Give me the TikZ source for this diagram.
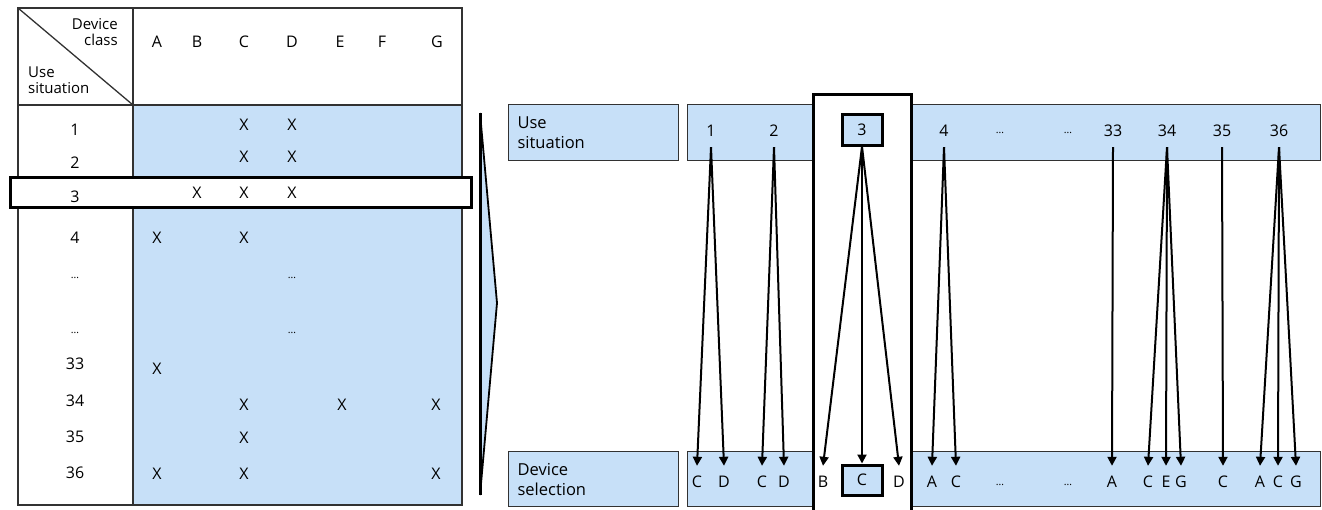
\documentclass[tikz,border=0pt]{standalone}
\usepackage{fontspec}
\setmainfont{Open Sans}
\usetikzlibrary{arrows.meta}
\definecolor{cellblue}{RGB}{199,224,248}
\definecolor{rule}{RGB}{50,50,50}

\begin{document}
\begin{tikzpicture}[x=1pt,y=-1pt,
  txt/.style={inner sep=0pt, font=\fontsize{16}{19}\selectfont},
  dots/.style={inner sep=0pt, font=\fontsize{10.5}{12}\selectfont},
  lbl/.style={draw=rule, line width=1.2pt, fill=cellblue, anchor=north west,
    font=\fontsize{16.5}{20}\selectfont, align=left, text width=152pt,
    inner xsep=9pt, inner ysep=0pt, minimum width=170pt},
  band/.style={draw=rule, line width=1.2pt, fill=cellblue, anchor=north west, inner sep=0pt},
  frame/.style={draw=black, line width=3pt},
  link/.style={line width=2pt, -{Triangle[length=9pt,width=9pt]}},
  tag/.style={txt, minimum height=32pt},
]
\useasboundingbox (0,0) rectangle (1322,509);

% ---------- matrix of use situations and device classes ----------
\fill[cellblue] (133,105) rectangle (462,505);
\draw[rule, line width=1.3pt] (18,8) rectangle (462,505);
\draw[rule, line width=1.3pt] (133,8) -- (133,505);
\draw[rule, line width=1.3pt] (18,105) -- (462,105);
\draw[rule, line width=1.3pt] (18,8) -- (133,105);
\node[txt, align=right, anchor=north east, font=\fontsize{15}{16.5}\selectfont] (hdc) at (118,18) {Device\\class};
\node[txt, align=left, anchor=north west, font=\fontsize{15}{16}\selectfont] (hus) at (28,67) {Use\\situation};

% highlighted row 3
\draw[frame, fill=white] (10,177) rectangle (471,207);

\foreach \l/\x in {A/157,B/197,C/244,D/292,E/340,F/382,G/437}
  \node[txt] (col\l) at (\x,42) {\l};

\foreach \n/\y [count=\i] in {1/130,2/163,3/197,4/238,33/364,34/401,35/437,36/473}
  \node[txt] (row\i) at (75,\y) {\n};
\node[dots] (rowdotsa) at (75,278) {\ldots};
\node[dots] (rowdotsb) at (75,333) {\ldots};
\node[dots] (celldotsa) at (292,278) {\ldots};
\node[dots] (celldotsb) at (292,333) {\ldots};

\foreach \x/\y [count=\i] in {244/125,292/125, 244/157,292/157, 197/193,244/193,292/193,
    157/238,244/238, 157/369, 244/405,342/405,436/405, 244/438, 157/474,244/474,436/474}
  \node[txt] (x\i) at (\x,\y) {X};

% ---------- transition chevron ----------
\fill[cellblue] (480,113) -- (497,303) -- (480,495) -- cycle;
\draw[line width=1.8pt, line join=miter] (480,113) -- (497,303) -- (480,495);
\draw[line width=3pt] (480,113) -- (480,495);

% ---------- mapping view ----------
\node[lbl, minimum height=56pt] (uselbl) at (508,104) {Use\\situation};
\node[lbl, minimum height=55pt] (devlbl) at (508,451) {Device\\selection};
\node[band, minimum width=633pt, minimum height=56pt] (topband) at (687,104) {};
\node[band, minimum width=633pt, minimum height=55pt] (botband) at (687,451) {};

% highlighted column for use situation 3
\draw[frame, fill=white] (813,94) rectangle (911,530);
\node[txt, frame, fill=cellblue, minimum width=40pt, minimum height=31pt] (u3) at (862,129.5) {3};
\node[txt, frame, fill=cellblue, minimum width=40pt, minimum height=30pt] (d3c) at (862,480) {C};

% use situations
\foreach \n/\x in {1/711,2/774,4/944,33/1113,34/1167,35/1222,36/1279}
  \node[tag] (u\n) at (\x,131) {\n};
\node[dots] (udotsa) at (1000,133) {\ldots};
\node[dots] (udotsb) at (1068,133) {\ldots};

% selected devices
\foreach \nm/\l/\x in {d1c/C/697, d1d/D/724, d2c/C/762, d2d/D/784,
    d3b/B/823, d3d/D/899, d4a/A/932, d4c/C/956,
    d33a/A/1112, d34c/C/1148, d34e/E/1166, d34g/G/1181,
    d35c/C/1223, d36a/A/1260, d36c/C/1278, d36g/G/1296}
  \node[tag] (\nm) at (\x,482) {\l};
\node[dots] (ddotsa) at (1000,485) {\ldots};
\node[dots] (ddotsb) at (1068,485) {\ldots};

% connectors
\foreach \s/\t in {u1/d1c, u1/d1d, u2/d2c, u2/d2d, u3/d3b, u3/d3c, u3/d3d,
    u4/d4a, u4/d4c, u33/d33a, u34/d34c, u34/d34e, u34/d34g, u35/d35c,
    u36/d36a, u36/d36c, u36/d36g}
  \draw[link] (\s.south) -- (\t.north);
\end{tikzpicture}
\end{document}
